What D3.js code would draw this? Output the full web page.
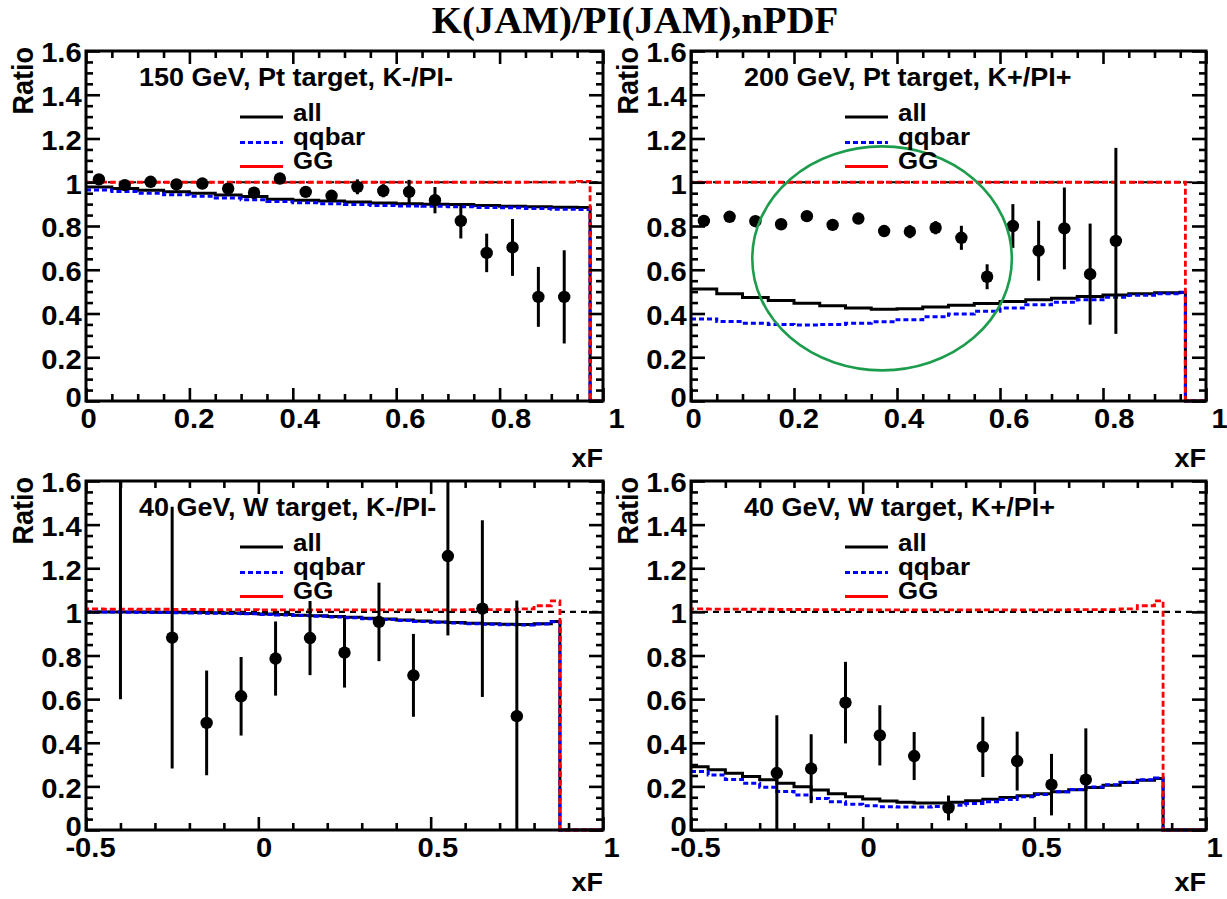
<!DOCTYPE html>
<html><head><meta charset="utf-8">
<script src="https://cdn.jsdelivr.net/npm/d3@7"></script>
<style>body{margin:0;background:#fff}svg{display:block}</style>
</head><body>
<svg id="c" width="1227" height="899"></svg>
<script>
// ---------------- DATA ----------------
const chartTitle = "K(JAM)/PI(JAM),nPDF";
const panelLabels = ["150 GeV, Pt target, K-/PI-", "200 GeV, Pt target, K+/PI+", "40 GeV, W target, K-/PI-", "40 GeV, W target, K+/PI+"];
const legendLabels = ["all", "qqbar", "GG"];
const yTickValues = [0, 0.2, 0.4, 0.6, 0.8, 1, 1.2, 1.4, 1.6];
const yTickLabels = ["0", "0.2", "0.4", "0.6", "0.8", "1", "1.2", "1.4", "1.6"];
const xTickValuesTop = [0, 0.2, 0.4, 0.6, 0.8, 1];
const xTickLabelsTop = ["0", "0.2", "0.4", "0.6", "0.8", "1"];
const xTickValuesBottom = [-0.5, 0, 0.5, 1];
const xTickLabelsBottom = ["-0.5", "0", "0.5", "1"];

// histogram bin edges
const edges150Pt = [0,0.05,0.1,0.15,0.2,0.25,0.3,0.35,0.4,0.45,0.5,0.55,0.6,0.65,0.7,0.75,0.8,0.85,0.9,0.95,0.975,1];
const edges200Pt = [0,0.05,0.1,0.15,0.2,0.25,0.3,0.35,0.4,0.45,0.5,0.55,0.6,0.65,0.7,0.75,0.8,0.85,0.9,0.95,0.96,1];
const edges40W = [-0.5,-0.45,-0.4,-0.35,-0.3,-0.25,-0.2,-0.15,-0.1,-0.05,0,0.05,0.1,0.15,0.2,0.25,0.3,0.35,0.4,0.45,0.5,0.55,0.6,0.65,0.7,0.75,0.8,0.85,0.875,1];

// panel 1: 150 GeV, Pt, K-/PI-
const allP1 = [0.978,0.972,0.964,0.957,0.950,0.942,0.935,0.922,0.918,0.914,0.910,0.905,0.902,0.900,0.898,0.894,0.890,0.888,0.886,0.885,0];
const qqP1  = [0.965,0.958,0.950,0.943,0.936,0.928,0.920,0.912,0.906,0.902,0.898,0.894,0.892,0.890,0.888,0.885,0.883,0.880,0.877,0.876,0];
const ggP1  = [1.001,1.0,1.0,1.0,1.0,1.0,1.0,1.0,1.0,1.0,1.0,1.0,1.0,1.0,1.0,1.0,1.0,1.001,1.001,1.004,0];
const xP1   = [0.025,0.075,0.125,0.175,0.225,0.275,0.325,0.375,0.425,0.475,0.525,0.575,0.625,0.675,0.725,0.775,0.825,0.875,0.925];
const yP1   = [1.013,0.987,1.002,0.990,0.994,0.971,0.952,1.017,0.956,0.938,0.979,0.961,0.956,0.918,0.823,0.677,0.702,0.476,0.476];
const eP1   = [0.010,0.010,0.010,0.010,0.012,0.012,0.013,0.015,0.018,0.020,0.034,0.030,0.055,0.060,0.080,0.088,0.130,0.137,0.213];

// panel 2: 200 GeV, Pt, K+/PI+
const allP2 = [0.512,0.490,0.473,0.460,0.447,0.435,0.425,0.420,0.422,0.430,0.438,0.446,0.455,0.463,0.470,0.478,0.485,0.490,0.495,0.497,0];
const qqP2  = [0.375,0.364,0.356,0.350,0.347,0.350,0.355,0.362,0.372,0.385,0.398,0.410,0.425,0.440,0.452,0.463,0.474,0.483,0.490,0.496,0];
const ggP2  = [1,1,1,1,1,1,1,1,1,1,1,1,1,1,1,1,1,1,1,1,0];
const xP2   = [0.025,0.075,0.125,0.175,0.225,0.275,0.325,0.375,0.425,0.475,0.525,0.575,0.625,0.675,0.725,0.775,0.825];
const yP2   = [0.823,0.842,0.822,0.808,0.845,0.805,0.834,0.777,0.774,0.792,0.746,0.568,0.800,0.687,0.789,0.580,0.732];
const eP2   = [0.010,0.010,0.010,0.012,0.012,0.013,0.015,0.025,0.030,0.030,0.055,0.057,0.100,0.137,0.187,0.231,0.425];
const ellipseCenter = [0.371, 0.652];
const ellipseRadii = [0.252, 0.512];

// panel 3: 40 GeV, W, K-/PI-
const allP3 = [1.000,1.000,1.000,0.999,0.998,0.998,0.997,0.996,0.995,0.993,0.990,0.988,0.985,0.982,0.979,0.975,0.971,0.967,0.963,0.958,0.954,0.951,0.948,0.945,0.943,0.942,0.946,0.956,0];
const qqP3  = [0.999,0.999,0.998,0.997,0.997,0.996,0.995,0.994,0.993,0.991,0.988,0.986,0.983,0.980,0.977,0.973,0.969,0.965,0.961,0.956,0.952,0.949,0.946,0.943,0.941,0.940,0.944,0.955,0];
const ggP3  = [1.014,1.013,1.013,1.012,1.012,1.011,1.011,1.010,1.010,1.010,1.009,1.009,1.009,1.009,1.009,1.009,1.009,1.009,1.009,1.009,1.009,1.009,1.010,1.010,1.010,1.014,1.028,1.050,0];
const xP3   = [-0.40,-0.25,-0.15,-0.05,0.05,0.15,0.25,0.35,0.45,0.55,0.65,0.75];
const yP3   = [1.800,0.882,0.491,0.613,0.786,0.880,0.813,0.954,0.709,1.256,1.015,0.522];
const eP3   = [1.200,0.600,0.240,0.180,0.170,0.170,0.160,0.180,0.190,0.364,0.405,0.530];

// panel 4: 40 GeV, W, K+/PI+
const allP4 = [0.290,0.276,0.260,0.245,0.230,0.214,0.198,0.183,0.166,0.153,0.142,0.133,0.127,0.124,0.124,0.127,0.134,0.141,0.149,0.157,0.166,0.175,0.185,0.195,0.205,0.218,0.228,0.236,0];
const qqP4  = [0.268,0.252,0.232,0.214,0.196,0.177,0.160,0.144,0.130,0.118,0.111,0.107,0.105,0.106,0.108,0.114,0.121,0.130,0.140,0.152,0.163,0.175,0.186,0.197,0.208,0.219,0.230,0.238,0];
const ggP4  = [1.014,1.013,1.013,1.012,1.012,1.011,1.011,1.010,1.010,1.010,1.009,1.009,1.009,1.009,1.009,1.009,1.009,1.009,1.009,1.009,1.009,1.009,1.010,1.010,1.010,1.014,1.028,1.050,0];
const xP4   = [-0.25,-0.15,-0.05,0.05,0.15,0.25,0.35,0.45,0.55,0.65];
const yP4   = [0.261,0.281,0.584,0.434,0.339,0.101,0.381,0.316,0.208,0.231];
const eP4   = [0.265,0.158,0.187,0.138,0.110,0.057,0.138,0.135,0.141,0.235];

// ---------------- LAYOUT / STYLE ----------------
const SX = 1.08; // horizontal text stretch
const SANS = "'Liberation Sans', Arial, Helvetica, sans-serif";
const SERIF = "'Liberation Serif', 'Times New Roman', serif";
const rows = [{top: 51, bottom: 401, xTitleY: 467, drift0: 2, drift1: 11},
              {top: 481, bottom: 830, xTitleY: 891, drift0: 4, drift1: 4}];
const cols = [{left: 86, right: 603}, {left: 691, right: 1206}];

const panels = [
  {row: 0, col: 0, label: panelLabels[0], xDomain: [0, 1], xMaj: xTickValuesTop, xLab: xTickLabelsTop, xMinStep: 0.05,
   edges: edges150Pt, all: allP1, qq: qqP1, gg: ggP1, px: xP1, py: yP1, pe: eP1},
  {row: 0, col: 1, label: panelLabels[1], xDomain: [0, 1], xMaj: xTickValuesTop, xLab: xTickLabelsTop, xMinStep: 0.05,
   edges: edges200Pt, all: allP2, qq: qqP2, gg: ggP2, px: xP2, py: yP2, pe: eP2, ellipse: true},
  {row: 1, col: 0, label: panelLabels[2], xDomain: [-0.5, 1], xMaj: xTickValuesBottom, xLab: xTickLabelsBottom, xMinStep: 0.1,
   edges: edges40W, all: allP3, qq: qqP3, gg: ggP3, px: xP3, py: yP3, pe: eP3},
  {row: 1, col: 1, label: panelLabels[3], xDomain: [-0.5, 1], xMaj: xTickValuesBottom, xLab: xTickLabelsBottom, xMinStep: 0.1,
   edges: edges40W, all: allP4, qq: qqP4, gg: ggP4, px: xP4, py: yP4, pe: eP4}
];

const svg = d3.select("#c");
const defs = svg.append("defs");

function stretchedText(parent, x, y, str, opts) {
  return parent.append("text")
    .attr("transform", `translate(${x},${y}) scale(${opts.sx || SX},1)` + (opts.rotate ? ` rotate(${opts.rotate})` : ""))
    .attr("text-anchor", opts.anchor || "start")
    .attr("font-family", opts.family || SANS)
    .attr("font-weight", opts.weight || "bold")
    .attr("font-size", opts.size)
    .attr("fill", "#000")
    .text(str);
}

function histPoints(edges, vals) {
  const pts = [];
  vals.forEach((v, i) => { pts.push([edges[i], v]); pts.push([edges[i + 1], v]); });
  return pts;
}

// title
stretchedText(svg, 635, 33, chartTitle, {size: 37, family: SERIF, anchor: "middle", sx: 1.05});

panels.forEach((p, idx) => {
  const R = rows[p.row], C = cols[p.col];
  const x = d3.scaleLinear().domain(p.xDomain).range([C.left, C.right]);
  const y = d3.scaleLinear().domain([0, 1.6]).range([R.bottom, R.top]);
  const g = svg.append("g");

  const cid = "clip" + idx;
  defs.append("clipPath").attr("id", cid).append("rect")
    .attr("x", C.left - 2).attr("y", R.top).attr("width", C.right - C.left + 4).attr("height", R.bottom - R.top + 2);
  const plot = g.append("g").attr("clip-path", `url(#${cid})`);

  // reference y=1 dashed black
  plot.append("line")
    .attr("x1", x(p.xDomain[0])).attr("x2", x(p.xDomain[1]))
    .attr("y1", y(1)).attr("y2", y(1))
    .attr("stroke", "#000").attr("stroke-width", 2.2).attr("stroke-dasharray", "6,5");

  const line = d3.line().x(d => x(d[0])).y(d => y(d[1]));
  plot.append("path").attr("d", line(histPoints(p.edges, p.all)))
    .attr("fill", "none").attr("stroke", "#000").attr("stroke-width", 3);
  plot.append("path").attr("d", line(histPoints(p.edges, p.qq)))
    .attr("fill", "none").attr("stroke", "#0000ff").attr("stroke-width", 3).attr("stroke-dasharray", "5,3");
  plot.append("path").attr("d", line(histPoints(p.edges, p.gg)))
    .attr("fill", "none").attr("stroke", "#ff0000").attr("stroke-width", 2.8).attr("stroke-dasharray", "6,3").attr("stroke-dashoffset", 3);

  // data points with error bars
  const pts = p.px.map((xv, i) => ({x: xv, y: p.py[i], e: p.pe[i]}));
  plot.selectAll("line.err").data(pts).enter().append("line")
    .attr("x1", d => x(d.x)).attr("x2", d => x(d.x))
    .attr("y1", d => y(Math.max(0, d.y - d.e))).attr("y2", d => y(d.y + d.e))
    .attr("stroke", "#000").attr("stroke-width", 3);
  plot.selectAll("circle.pt").data(pts).enter().append("circle")
    .attr("cx", d => x(d.x)).attr("cy", d => y(d.y)).attr("r", 6.2).attr("fill", "#000");

  if (p.ellipse) {
    g.append("ellipse")
      .attr("cx", x(ellipseCenter[0])).attr("cy", y(ellipseCenter[1]))
      .attr("rx", x(ellipseCenter[0] + ellipseRadii[0]) - x(ellipseCenter[0]))
      .attr("ry", y(ellipseCenter[1]) - y(ellipseCenter[1] + ellipseRadii[1]))
      .attr("fill", "none").attr("stroke", "#1c9c4c").attr("stroke-width", 2.6);
  }

  // axes: minor ticks
  const xMinors = d3.range(p.xDomain[0], p.xDomain[1] + 1e-9, p.xMinStep).filter(v => !p.xMaj.some(m => Math.abs(m - v) < 1e-9));
  const yMinors = d3.range(0, 1.6 + 1e-9, 0.05).filter(v => !yTickValues.some(m => Math.abs(m - v) < 1e-9));

  function styleAxis(sel) {
    sel.select(".domain").remove();
    sel.selectAll(".tick line").attr("stroke", "#000").attr("stroke-width", 2.6);
  }
  g.append("g").attr("transform", `translate(0,${R.bottom})`)
    .call(d3.axisBottom(x).tickValues(xMinors).tickSize(-7).tickFormat("")).call(styleAxis);
  g.append("g").attr("transform", `translate(0,${R.top})`)
    .call(d3.axisTop(x).tickValues(xMinors).tickSize(-7).tickFormat("")).call(styleAxis);
  g.append("g").attr("transform", `translate(${C.left},0)`)
    .call(d3.axisLeft(y).tickValues(yMinors).tickSize(-7).tickFormat("")).call(styleAxis);
  g.append("g").attr("transform", `translate(${C.right},0)`)
    .call(d3.axisRight(y).tickValues(yMinors).tickSize(-7).tickFormat("")).call(styleAxis);

  // major ticks
  const xb = g.append("g").attr("transform", `translate(0,${R.bottom})`)
    .call(d3.axisBottom(x).tickValues(p.xMaj).tickSize(-13).tickPadding(8)
      .tickFormat((d, i) => p.xLab[i])).call(styleAxis);
  xb.selectAll(".tick text")
    .attr("font-family", SANS).attr("font-weight", "bold").attr("font-size", 27).attr("fill", "#000")
    .attr("x", d => { const f = (d - p.xDomain[0]) / (p.xDomain[1] - p.xDomain[0]); return (R.drift0 + R.drift1 * f) / SX; })
    .attr("transform", `scale(${SX},1)`);
  g.append("g").attr("transform", `translate(0,${R.top})`)
    .call(d3.axisTop(x).tickValues(p.xMaj).tickSize(-13).tickFormat("")).call(styleAxis);
  const yl = g.append("g").attr("transform", `translate(${C.left},0)`)
    .call(d3.axisLeft(y).tickValues(yTickValues).tickSize(-14).tickPadding(4)
      .tickFormat((d, i) => yTickLabels[i])).call(styleAxis);
  yl.selectAll(".tick text")
    .attr("font-family", SANS).attr("font-weight", "bold").attr("font-size", 27).attr("fill", "#000")
    .attr("dy", d => d === 0 ? "0.22em" : "0.4em").attr("transform", `scale(${SX},1)`);
  g.append("g").attr("transform", `translate(${C.right},0)`)
    .call(d3.axisRight(y).tickValues(yTickValues).tickSize(-14).tickFormat("")).call(styleAxis);

  // frame
  g.append("rect").attr("x", C.left).attr("y", R.top)
    .attr("width", C.right - C.left).attr("height", R.bottom - R.top)
    .attr("fill", "none").attr("stroke", "#000").attr("stroke-width", 3);

  // axis titles
  stretchedText(g, C.left - 53, R.top - 4, "Ratio", {size: 27, anchor: "end", rotate: -90});
  stretchedText(g, C.right, R.xTitleY, "xF", {size: 25, anchor: "end"});

  // panel label
  stretchedText(g, C.left + 53, R.top + 35, p.label, {size: 25});

  // legend
  const legStyles = [
    {stroke: "#000", dash: null},
    {stroke: "#0000ff", dash: "5,3"},
    {stroke: "#ff0000", dash: null}
  ];
  const legLineY = [66, 91.5, 115.5];
  const legTextY = [70, 94, 118];
  legendLabels.forEach((lab, i) => {
    const ln = g.append("line")
      .attr("x1", C.left + 154).attr("x2", C.left + 197)
      .attr("y1", R.top + legLineY[i]).attr("y2", R.top + legLineY[i])
      .attr("stroke", legStyles[i].stroke).attr("stroke-width", 3);
    if (legStyles[i].dash) ln.attr("stroke-dasharray", legStyles[i].dash);
    stretchedText(g, C.left + 207, R.top + legTextY[i], lab, {size: 24});
  });
});
</script>
</body></html>
